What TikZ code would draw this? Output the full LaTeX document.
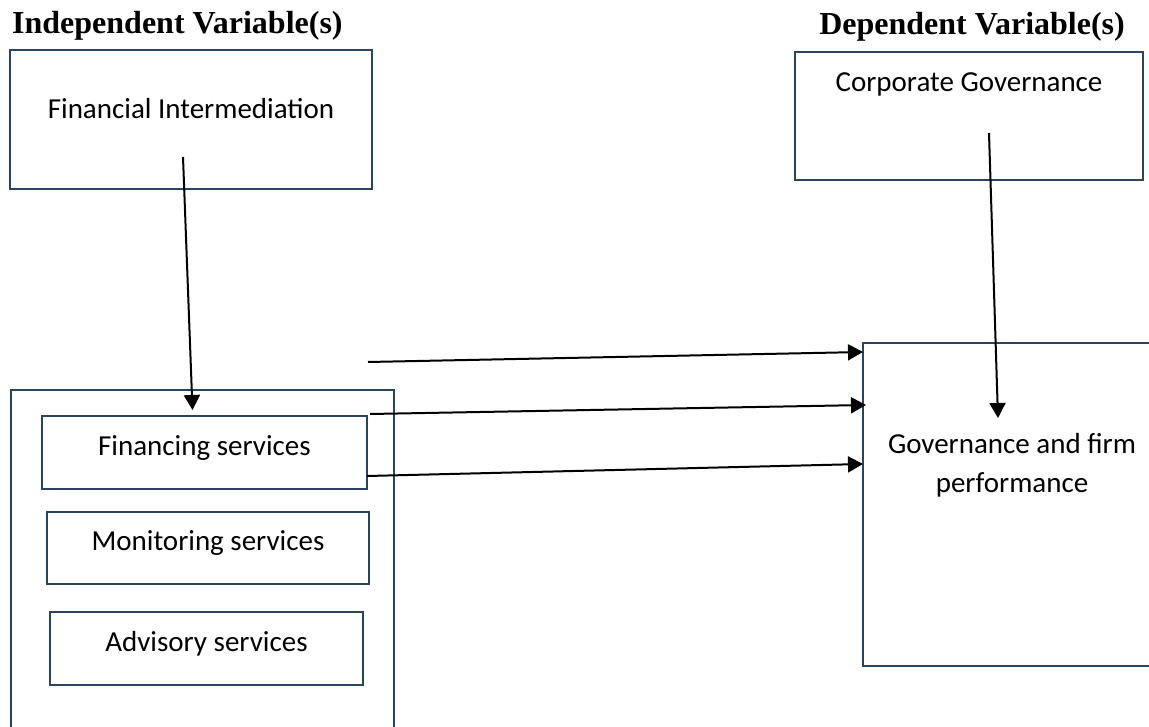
\documentclass[tikz,border=0pt]{standalone}
\usepackage{fontspec}
\setmainfont{Carlito}
\newfontfamily\titlefont{Liberation Serif}
\usetikzlibrary{arrows.meta,calc}
\definecolor{boxline}{RGB}{44,68,95}
\tikzset{
	box/.style={draw=boxline, line width=2.4pt, inner sep=0pt, outer sep=0pt, font=\fontsize{29}{39}\selectfont},
	subbox/.style={box, text height=20pt, text depth=15pt},
	arr/.style={line width=2pt, -{Triangle[length=15pt,width=16pt]}},
	heading/.style={font=\titlefont\bfseries\fontsize{32}{36}\selectfont, inner sep=0pt}
}

\begin{document}
\begin{tikzpicture}[x=1pt, y=-1pt]
			%%%%% START %%%%%
			
			\useasboundingbox (0,0) rectangle (1149,727);
			\clip (0,0) rectangle (1149,727);
			
			\node[heading, anchor=base west] (indep) at (12,33.5) {Independent Variable(s)};
			\node[heading, anchor=base east] (dep) at (1125,35) {Dependent Variable(s)};
			
			\node[box, minimum width=362pt, minimum height=139pt, text height=20pt, text depth=22pt] (fi) at (191,119.5) {Financial Intermediation};
			\node[box, minimum width=348pt, minimum height=128pt, text height=20pt, text depth=68pt] (cg) at (969,116) {Corporate Governance};
			
			\node[box, minimum width=383pt, minimum height=410pt] (svc) at (202.5,595) {};
			\node[subbox, minimum width=325pt, minimum height=73pt] (fin) at (204.5,452.5) {Financing services};
			\node[subbox, minimum width=322pt, minimum height=72pt] (mon) at (208,548) {Monitoring services};
			\node[subbox, minimum width=313pt, minimum height=73pt] (adv) at (206.5,648.5) {Advisory services};
			
			\node[box, align=center, minimum width=298pt, minimum height=323pt, text height=20pt, text depth=45pt] (gov) at (1012,504.5) {Governance and firm\\performance};
			
			\coordinate (free) at (368,362);
			
			\draw[arr] ([xshift=-8pt,yshift=32pt]fi.south) -- ([xshift=-12pt,yshift=6pt]fin.north);
			\draw[arr] ([xshift=20pt,yshift=47pt]cg.south) -- ([xshift=-14pt,yshift=-75pt]gov.north);
			
			\draw[arr] (free) -- ([yshift=152.5pt]gov.west);
			\draw[arr] ([xshift=3pt,yshift=2pt]fin.north east) -- ([xshift=3pt,yshift=99.5pt]gov.west);
			\draw[arr] ([yshift=-23.5pt]fin.east) -- ([yshift=40.5pt]gov.west);
			
			%%%%% END %%%%%
\end{tikzpicture}
\end{document}
